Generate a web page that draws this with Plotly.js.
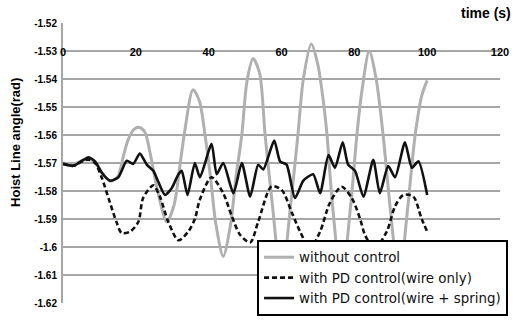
<!DOCTYPE html>
<html>
<head>
<meta charset="utf-8">
<script src="https://cdn.plot.ly/plotly-3.0.1.min.js"></script>
<style>html,body{margin:0;padding:0;background:#fff;}#chart{width:515px;height:322px;}</style>
</head>
<body>
<div id="chart"></div>
<script>
// Series: without control
const tNoCtrl = [0, 3, 5.5, 7, 9, 11, 13, 15, 16.5, 17.8, 19.5, 21, 22.5, 24, 26, 28.5, 30.5, 32.2, 33.5, 35.7, 37.5, 39, 40.5, 42, 44, 46, 47.5, 49.1, 50.5, 52.2, 54, 55.5, 57.5, 60, 62.5, 64.5, 66, 68.2, 70, 71.5, 72.5, 74, 76.5, 79, 80.7, 82, 84.1, 86, 87.9, 90, 92.3, 94.5, 96.7, 98.5, 100];
const vNoCtrl = [-1.570, -1.5703, -1.569, -1.5685, -1.570, -1.574, -1.5765, -1.575, -1.568, -1.562, -1.558, -1.5573, -1.559, -1.567, -1.58, -1.591, -1.585, -1.57, -1.558, -1.5438, -1.548, -1.56, -1.575, -1.592, -1.6033, -1.592, -1.575, -1.56, -1.541, -1.5327, -1.538, -1.56, -1.585, -1.612, -1.585, -1.56, -1.54, -1.5275, -1.535, -1.548, -1.56, -1.585, -1.612, -1.585, -1.56, -1.545, -1.530, -1.54, -1.56, -1.588, -1.612, -1.588, -1.56, -1.546, -1.5405];

// Series: with PD control (wire only)
const tWire = [0, 2.8, 5.6, 7.0, 8.8, 10.6, 12.9, 14.7, 16.1, 18.4, 20.7, 22.0, 24.8, 26.6, 28.9, 31.7, 34.4, 36.2, 37.6, 40.8, 44.0, 46.3, 48.6, 51.4, 53.6, 57.3, 60.1, 62.8, 65.1, 67.8, 70.6, 73.3, 76.5, 79.3, 81.6, 82.9, 85.5, 88.9, 91.2, 93.5, 96.2, 98.5, 100];
const vWire = [-1.5703, -1.571, -1.5692, -1.5688, -1.570, -1.5751, -1.5842, -1.5911, -1.595, -1.5945, -1.591, -1.5825, -1.578, -1.582, -1.591, -1.5976, -1.5945, -1.590, -1.583, -1.5751, -1.5808, -1.5888, -1.5956, -1.5984, -1.591, -1.5783, -1.5797, -1.5876, -1.5945, -1.6005, -1.5945, -1.5842, -1.5785, -1.5825, -1.590, -1.5956, -1.6005, -1.5945, -1.5854, -1.5814, -1.582, -1.590, -1.5945];

// Series: with PD control (wire + spring)
const tSpring = [0, 2.8, 5.6, 7.0, 8.8, 10.6, 12.9, 15.2, 17.5, 19.3, 21.1, 23.0, 24.8, 26.2, 28.0, 29.8, 31.7, 32.6, 34.2, 36.2, 37.6, 40.8, 42.2, 44.0, 46.8, 49.1, 51.4, 53.6, 55.0, 58.0, 59.6, 61.4, 63.7, 66.0, 68.7, 70.6, 72.9, 74.7, 76.8, 78.3, 80.2, 82.5, 85.2, 87.0, 89.3, 91.2, 93.9, 95.8, 97.6, 100];
const vSpring = [-1.5703, -1.571, -1.5689, -1.568, -1.5694, -1.5734, -1.5763, -1.5751, -1.5692, -1.5703, -1.5666, -1.5706, -1.5728, -1.5768, -1.5814, -1.5791, -1.574, -1.5728, -1.5814, -1.570, -1.5751, -1.5632, -1.574, -1.570, -1.5808, -1.570, -1.582, -1.5706, -1.5723, -1.562, -1.5694, -1.5706, -1.5825, -1.5763, -1.574, -1.5808, -1.5672, -1.5717, -1.5626, -1.5706, -1.5728, -1.582, -1.5689, -1.5808, -1.5711, -1.5751, -1.5626, -1.5717, -1.5694, -1.5814];

const seriesNames = ["without control", "with PD control(wire only)", "with PD control(wire + spring)"];
const xTicks = [0, 20, 40, 60, 80, 100, 120];
const yTicks = [-1.52, -1.53, -1.54, -1.55, -1.56, -1.57, -1.58, -1.59, -1.60, -1.61, -1.62];
const yTickText = ["-1.52", "-1.53", "-1.54", "-1.55", "-1.56", "-1.57", "-1.58", "-1.59", "-1.6", "-1.61", "-1.62"];
const xTitle = "time (s)";
const yTitle = "Hoist Line angle(rad)";

const traces = [
  {x: tNoCtrl, y: vNoCtrl, name: seriesNames[0], mode: "lines",
   line: {color: "#b0b0b0", width: 3, shape: "spline", smoothing: 0.8}},
  {x: tWire, y: vWire, name: seriesNames[1], mode: "lines",
   line: {color: "#111", width: 2.6, dash: "5px,3px", shape: "spline", smoothing: 0.8}},
  {x: tSpring, y: vSpring, name: seriesNames[2], mode: "lines",
   line: {color: "#111", width: 2.6, shape: "spline", smoothing: 0.6}}
];

const layout = {
  width: 515, height: 322,
  margin: {l: 63, r: 15, t: 23, b: 6},
  paper_bgcolor: "#fff", plot_bgcolor: "#fff",
  showlegend: true,
  legend: {x: 0.444, y: 0.225, xanchor: "left", yanchor: "top",
    bgcolor: "#fff", bordercolor: "#000", borderwidth: 2,
    font: {family: "DejaVu Sans", size: 13.4, color: "#111"},
    itemwidth: 30, tracegroupgap: 0},
  xaxis: {range: [0, 120], tickvals: xTicks, ticktext: xTicks.map(String),
    anchor: "free", position: 0.9, side: "top",
    showgrid: false, zeroline: false, showline: false, ticks: "",
    ticklabelstandoff: -7,
    tickfont: {family: "Liberation Sans", size: 11, color: "#000", weight: "bold"}},
  yaxis: {range: [-1.62, -1.52], tickvals: yTicks, ticktext: yTickText,
    showgrid: true, gridcolor: "#a6a6a6", gridwidth: 2,
    zeroline: false, showline: true, linecolor: "#a6a6a6", linewidth: 2,
    ticks: "", ticklabelstandoff: 2,
    tickfont: {family: "Liberation Sans", size: 10, color: "#000", weight: "bold"}},
  annotations: [
    {text: xTitle, xref: "paper", yref: "paper", x: 1.03, y: 1.035,
     xanchor: "right", yanchor: "middle", showarrow: false,
     font: {family: "Liberation Sans", size: 14, color: "#000", weight: "bold"}},
    {text: yTitle, xref: "paper", yref: "paper", x: -0.11, y: 0.575,
     xanchor: "center", yanchor: "middle", textangle: -90, showarrow: false,
     font: {family: "Liberation Sans", size: 13, color: "#000", weight: "bold"}}
  ]
};

Plotly.newPlot("chart", traces, layout, {displayModeBar: false, staticPlot: true});
</script>
</body>
</html>
